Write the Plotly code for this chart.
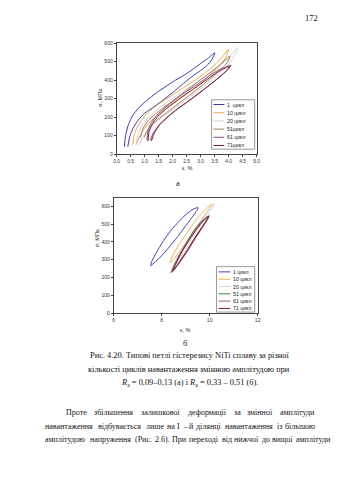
import plotly.graph_objects as go

W, H = 339, 480

# ---------------- panel (a): stress-strain loops, strain 0..5 % ----------------
a_names = ["1  цикл", "10 цикл", "20 цикл", "51цикл", "61 цикл", "71цикл"]
a_colors = ["#3b3bab", "#f0a650", "#d2d2d2", "#9c8058", "#8c4a86", "#7a1e30"]

a1_x = [0.28, 0.32, 0.42, 0.58, 0.77, 1.00, 1.24, 1.52, 1.82, 2.10, 2.40, 2.70, 2.98, 3.25, 3.51,
        3.40, 3.22, 3.00, 2.75, 2.45, 2.17, 1.88, 1.58, 1.30, 1.00, 0.78, 0.59, 0.47, 0.40]
a1_y = [40, 100, 159, 210, 247, 280, 310, 342, 372, 400, 426, 456, 488, 517, 548,
        512, 479, 452, 426, 390, 354, 318, 283, 252, 221, 185, 141, 95, 40]

a10_x = [0.58, 0.62, 0.75, 0.95, 1.20, 1.50, 1.85, 2.20, 2.55, 2.90, 3.25, 3.55, 3.80, 4.00,
         3.92, 3.75, 3.50, 3.20, 2.90, 2.55, 2.20, 1.85, 1.50, 1.20, 0.95, 0.80, 0.70]
a10_y = [50, 100, 150, 195, 235, 270, 305, 340, 375, 410, 450, 490, 530, 568,
         530, 490, 450, 410, 370, 330, 292, 255, 215, 175, 130, 90, 50]

a20_x = [0.70, 0.75, 0.90, 1.12, 1.40, 1.72, 2.08, 2.45, 2.82, 3.18, 3.52, 3.85, 4.10, 4.33,
         4.22, 4.02, 3.76, 3.46, 3.14, 2.80, 2.44, 2.08, 1.72, 1.38, 1.10, 0.92, 0.82]
a20_y = [52, 100, 150, 195, 235, 272, 310, 348, 385, 422, 460, 500, 540, 577,
         535, 492, 450, 410, 370, 330, 290, 250, 210, 170, 128, 88, 52]

a51_x = [0.85, 0.95, 1.15, 1.45, 1.80, 2.15, 2.50, 2.85, 3.20, 3.55, 3.85, 4.05,
         3.95, 3.70, 3.40, 3.08, 2.75, 2.40, 2.05, 1.70, 1.38, 1.12, 0.98]
a51_y = [90, 140, 185, 225, 265, 305, 345, 385, 425, 465, 505, 530,
         495, 455, 415, 375, 335, 295, 255, 215, 175, 135, 90]

a61_x = [1.08, 1.12, 1.24, 1.44, 1.70, 2.00, 2.32, 2.66, 3.00, 3.33, 3.65, 3.90, 4.02,
         3.92, 3.72, 3.44, 3.12, 2.80, 2.46, 2.12, 1.80, 1.50, 1.30, 1.20]
a61_y = [75, 125, 170, 210, 247, 283, 320, 355, 390, 425, 455, 470, 476,
         452, 424, 388, 350, 312, 275, 238, 198, 155, 112, 75]

a71_x = [1.12, 1.16, 1.28, 1.48, 1.75, 2.05, 2.38, 2.72, 3.05, 3.38, 3.70, 3.95, 4.08,
         3.98, 3.78, 3.50, 3.18, 2.85, 2.52, 2.18, 1.85, 1.55, 1.35, 1.24]
a71_y = [70, 120, 165, 205, 242, 278, 315, 350, 385, 420, 452, 472, 481,
         458, 430, 395, 358, 320, 282, 245, 205, 160, 115, 70]

a_loops = [(a1_x, a1_y), (a10_x, a10_y), (a20_x, a20_y),
           (a51_x, a51_y), (a61_x, a61_y), (a71_x, a71_y)]

# ---------------- panel (б): stress-strain loops, strain 6..12 % ----------------
b_names = ["1 цикл", "10 цикл", "20 цикл", "51 цикл", "61 цикл", "71 цикл"]
b_colors = ["#4040b2", "#f3ae5e", "#d6d6d6", "#3c8c3c", "#9a4f98", "#86182a"]

b1_x = [7.54, 7.62, 7.80, 8.02, 8.30, 8.65, 9.02, 9.32, 9.52,
        9.47, 9.30, 9.05, 8.75, 8.40, 8.05, 7.75, 7.54]
b1_y = [267, 300, 345, 395, 450, 505, 555, 585, 593,
        578, 545, 500, 445, 385, 330, 290, 267]

b10_x = [8.35, 8.45, 8.70, 9.00, 9.30, 9.60, 9.85, 10.07,
         9.98, 9.75, 9.45, 9.15, 8.85, 8.55, 8.35]
b10_y = [285, 320, 380, 440, 500, 550, 585, 611,
         585, 540, 485, 425, 365, 310, 285]

b20_x = [8.50, 8.65, 8.90, 9.20, 9.50, 9.80, 10.05, 10.20,
         10.10, 9.85, 9.55, 9.25, 8.95, 8.68, 8.50]
b20_y = [260, 310, 370, 435, 495, 555, 595, 618,
         590, 540, 480, 415, 350, 290, 260]

b51_x = [8.39, 8.50, 8.75, 9.05, 9.35, 9.65, 9.95,
         9.85, 9.60, 9.30, 9.00, 8.70, 8.39]
b51_y = [226, 265, 330, 400, 465, 515, 545,
         520, 470, 405, 340, 280, 226]

b61_x = [8.44, 8.56, 8.80, 9.10, 9.40, 9.70, 9.98,
         9.90, 9.66, 9.36, 9.06, 8.76, 8.44]
b61_y = [232, 272, 338, 405, 468, 518, 548,
         524, 474, 410, 345, 286, 232]

b71_x = [8.46, 8.60, 8.85, 9.15, 9.45, 9.75, 9.96,
         9.88, 9.65, 9.35, 9.05, 8.75, 8.46]
b71_y = [235, 280, 345, 410, 470, 520, 543,
         520, 475, 415, 350, 290, 235]

b_loops = [(b1_x, b1_y), (b10_x, b10_y), (b20_x, b20_y),
           (b51_x, b51_y), (b61_x, b61_y), (b71_x, b71_y)]

a_xticks = [0.0, 0.5, 1.0, 1.5, 2.0, 2.5, 3.0, 3.5, 4.0, 4.5, 5.0]
a_yticks = [0, 100, 200, 300, 400, 500, 600]
b_xticks = [6, 8, 10, 12]
b_yticks = [0, 100, 200, 300, 400, 500, 600]

caption = [
    "Рис. 4.20. Типові петлі гістерезису NiTi сплаву за різної",
    "кількості циклів навантаження змінною амплітудою при",
    "<i>R</i><sub>a</sub> = 0,09–0,13 (а) і <i>R</i><sub>a</sub> = 0,33 – 0,51 (б).",
]
body = [
    "Проте збільшення залишкової деформації за змінної амплітуди",
    "навантаження відбувається лише на I – й ділянці навантаження із більшою",
    "амплітудою напруження (Рис. 2.6). При переході від нижчої до вищої амплітуди",
]

# approximate advance widths of a Times-like serif face, in em
GLYPH_EM = {
    "а": .44, "б": .50, "в": .47, "г": .41, "д": .50, "е": .44, "ж": .69, "з": .39,
    "и": .54, "й": .54, "к": .49, "л": .50, "м": .64, "н": .54, "о": .50, "п": .54,
    "р": .50, "с": .44, "т": .44, "у": .50, "ф": .64, "х": .50, "ц": .54, "ч": .50,
    "ш": .77, "щ": .77, "ь": .46, "ю": .72, "я": .48, "і": .28, "ї": .28, "є": .44,
    "П": .72, "Р": .56, "I": .33, ".": .25, ",": .25, "(": .33, ")": .33, "–": .50,
}


def text_width(s, size):
    return sum(GLYPH_EM.get(ch, 0.5) for ch in s) * size * 1.07


def px(x):
    return x / W


def py(y):
    return 1 - y / H


fig = go.Figure()

for (xs, ys), name, col in zip(a_loops, a_names, a_colors):
    fig.add_trace(go.Scatter(x=xs, y=ys, mode="lines", name=name, xaxis="x", yaxis="y",
                             line=dict(color=col, width=1, shape="spline", smoothing=0.6),
                             showlegend=False))

for (xs, ys), name, col in zip(b_loops, b_names, b_colors):
    fig.add_trace(go.Scatter(x=xs, y=ys, mode="lines", name=name, xaxis="x2", yaxis="y2",
                             line=dict(color=col, width=1, shape="spline", smoothing=0.8),
                             showlegend=False))

tick_font = dict(family="Liberation Sans, Arial", size=5, color="#333")
axis_common = dict(showgrid=False, zeroline=False, showline=True, linecolor="#444",
                   linewidth=0.8, mirror=True, ticks="outside", ticklen=2,
                   tickwidth=0.6, tickcolor="#444", tickfont=tick_font)

fig.update_layout(
    width=W, height=H, autosize=False,
    margin=dict(l=0, r=0, t=0, b=0),
    paper_bgcolor="white", plot_bgcolor="white",
    showlegend=False,
    xaxis=dict(domain=[px(116), px(259)], range=[0, 5], tickvals=a_xticks,
               ticktext=[f"{v:.1f}" for v in a_xticks], anchor="y", **axis_common),
    yaxis=dict(domain=[py(153), py(40.7)], range=[0, 600], tickvals=a_yticks,
               anchor="x", **axis_common),
    xaxis2=dict(domain=[px(113), px(260)], range=[6, 12], tickvals=b_xticks,
                anchor="y2", **axis_common),
    yaxis2=dict(domain=[py(314), py(197)], range=[0, 650], tickvals=b_yticks,
                anchor="x2", **axis_common),
)

ann = []
shapes = []
lab_font = dict(family="Liberation Sans, Arial", size=5.5, color="#222")

# axis titles
ann.append(dict(x=px(94), y=py(96), text="σ, МПа", textangle=-90, font=lab_font))
ann.append(dict(x=px(188), y=py(167), text="ε, %", font=lab_font))
ann.append(dict(x=px(91), y=py(238), text="σ, МПа", textangle=-90, font=lab_font))
ann.append(dict(x=px(186), y=py(331), text="ε, %", font=lab_font))


def legend_box(x0, x1, y0, y1, names, colors, first_y, step, line_x0, line_x1, text_x):
    shapes.append(dict(type="rect", xref="paper", yref="paper",
                       x0=px(x0), x1=px(x1), y0=py(y1), y1=py(y0),
                       line=dict(color="#555", width=0.6), fillcolor="white", layer="above"))
    for i, (n, c) in enumerate(zip(names, colors)):
        yy = first_y + i * step
        shapes.append(dict(type="line", xref="paper", yref="paper",
                           x0=px(line_x0), x1=px(line_x1), y0=py(yy), y1=py(yy),
                           line=dict(color=c, width=1), layer="above"))
        ann.append(dict(x=px(text_x), y=py(yy), text=n, xanchor="left",
                        font=dict(family="Liberation Sans, Arial", size=5.2, color="#222")))


legend_box(213, 257, 98, 148, a_names, a_colors, 102.8, 8.3, 215, 226, 227)
legend_box(218, 257, 267, 313, b_names, b_colors, 272.3, 7.4, 220, 232, 233)

CAPTION_SIZE = 8.4
BODY_SIZE = 8.0
serif = dict(family="Liberation Serif, Times New Roman", size=CAPTION_SIZE, color="#111")
body_font = dict(family="Liberation Serif, Times New Roman", size=BODY_SIZE, color="#111")

# page number and panel letters
ann.append(dict(x=px(324), y=py(16), text="172", font=serif))
ann.append(dict(x=px(179), y=py(183), text="а", font=serif))
ann.append(dict(x=px(186), y=py(345), text="б", font=serif))

# caption, centred
for i, line in enumerate(caption):
    ann.append(dict(x=px(190), y=py(357 + 13.7 * i), text=line, font=serif))

# body paragraph, justified word by word between the text margins
left_margin, right_margin = 41, 318
for i, line in enumerate(body):
    words = line.split(" ")
    start = left_margin + (21 if i == 0 else 0)
    widths = [text_width(w, BODY_SIZE) for w in words]
    gap = max((right_margin - start - sum(widths)) / (len(words) - 1), 2.0)
    xpos = start
    for w, wd in zip(words, widths):
        ann.append(dict(x=px(xpos), y=py(415 + 13.7 * i), text=w, xanchor="left", font=body_font))
        xpos += wd + gap

for a in ann:
    a.setdefault("xref", "paper")
    a.setdefault("yref", "paper")
    a.setdefault("showarrow", False)
    a.setdefault("yanchor", "middle")

fig.update_layout(annotations=ann, shapes=shapes)
fig.write_html("out.html")
